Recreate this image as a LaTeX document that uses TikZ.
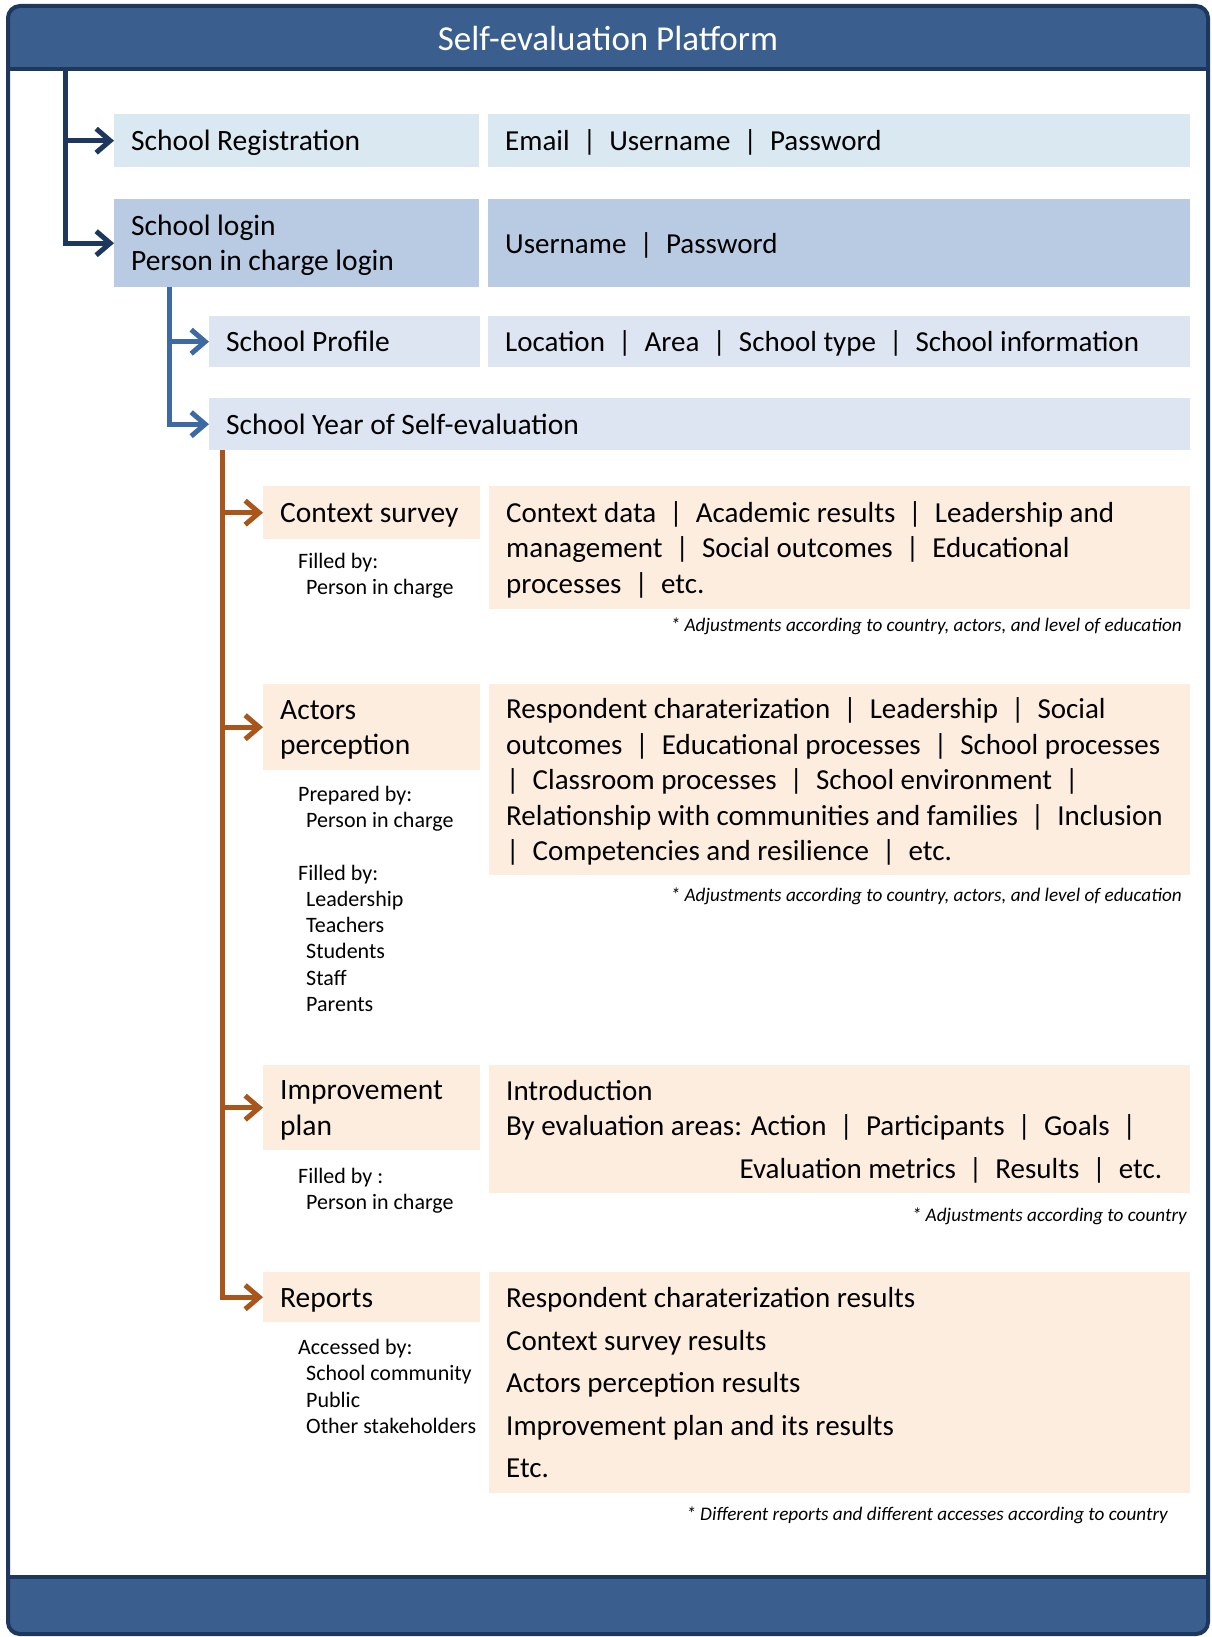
\documentclass[tikz,border=0pt]{standalone}
\usepackage{fontspec}
\setmainfont{Carlito}
\usetikzlibrary{arrows.meta}

\definecolor{framenavy}{HTML}{1E375C}
\definecolor{headblue}{HTML}{3A5F8F}
\definecolor{stepblue}{HTML}{3E6AA3}
\definecolor{stepbrown}{HTML}{A8561C}
\definecolor{regfill}{HTML}{DAE9F1}
\definecolor{loginfill}{HTML}{B8CBE3}
\definecolor{profilefill}{HTML}{DCE5F1}
\definecolor{surveyfill}{HTML}{FDEDDE}

\newcommand{\sepbar}{~~|~~}

\begin{document}
\begin{tikzpicture}[x=1pt, y=-1pt,
        every node/.style={inner sep=0pt},
        panel/.style={anchor=north west, inner xsep=17pt, inner ysep=0pt, align=flush left,
            font=\fontsize{29.5}{35.5}\selectfont,
            execute at begin node=\rule{0pt}{28pt}, execute at end node=\rule[-8pt]{0pt}{8pt}},
        datapanel/.style={panel, font=\fontsize{29}{35.5}\selectfont},
        subtext/.style={anchor=north west, align=flush left, font=\fontsize{22}{26.3}\selectfont},
        remark/.style={anchor=east, font=\fontsize{19.2}{23}\selectfont\itshape},
        navyarrow/.style={draw=framenavy, line width=5pt, -{Straight Barb[length=14pt,width=24pt]}},
        bluearrow/.style={draw=stepblue, line width=5pt, -{Straight Barb[length=14pt,width=24pt]}},
        brownarrow/.style={draw=stepbrown, line width=5pt, -{Straight Barb[length=14pt,width=24pt]}}]
    \useasboundingbox (0,0) rectangle (1211,1637);
    \fill[white] (0,0) rectangle (1211,1637);
    \fill[headblue, rounded corners=12pt] (8,6) rectangle (1208,1634);
    \fill[white] (8,69) rectangle (1208,1577);
    \draw[framenavy, line width=4pt] (8,69) -- (1208,69);
    \draw[framenavy, line width=4pt] (8,1577) -- (1208,1577);
    \draw[framenavy, line width=4pt, rounded corners=12pt] (8,6) rectangle (1208,1634);
    \node[font=\fontsize{35}{42}\selectfont, text=white] (title) at (608,38) {Self-evaluation Platform};

    \node[panel, fill=regfill, text width=331pt, minimum height=53pt] (reg) at (114,114) {School Registration};
    \node[datapanel, fill=regfill, text width=668pt, minimum height=53pt] (regdata) at (488,114)
        {Email\sepbar Username\sepbar Password};
    \node[panel, fill=loginfill, text width=331pt, minimum height=88pt] (login) at (114,199)
        {School login\\Person in charge login};
    \node[datapanel, fill=loginfill, text width=668pt, minimum height=88pt] (logindata) at (488,199)
        {Username\sepbar Password};
    \node[panel, fill=profilefill, text width=237pt, minimum height=51pt] (profile) at (209,316) {School Profile};
    \node[datapanel, fill=profilefill, text width=668pt, minimum height=51pt] (profiledata) at (488,316)
        {Location\sepbar Area\sepbar School type\sepbar School information};
    \node[panel, fill=profilefill, text width=947pt, minimum height=52pt] (year) at (209,398)
        {School Year of Self-evaluation};

    \node[panel, fill=surveyfill, text width=183pt, minimum height=53pt] (survey) at (263,486) {Context survey};
    \node[datapanel, fill=surveyfill, text width=667pt, minimum height=123pt] (surveydata) at (489,486)
        {Context data\sepbar Academic results\sepbar Leadership and\\
        management\sepbar Social outcomes\sepbar Educational\\
        processes\sepbar etc.};
    \node[subtext] (surveysub) at (298,553) {Filled by:\\\hspace*{8pt}Person in charge};
    \node[remark] (surveynote) at (1182,626) {* Adjustments according to country, actors, and level of education};

    \node[panel, fill=surveyfill, text width=183pt, minimum height=86pt] (actors) at (263,684) {Actors\\perception};
    \node[datapanel, fill=surveyfill, text width=667pt, minimum height=191pt] (actorsdata) at (489,684)
        {Respondent charaterization\sepbar Leadership\sepbar Social\\
        outcomes\sepbar Educational processes\sepbar School processes\\
        |~~Classroom processes\sepbar School environment~~|\\
        Relationship with communities and families\sepbar Inclusion\\
        |~~Competencies and resilience\sepbar etc.};
    \node[subtext] (actorssub) at (298,786)
        {Prepared by:\\\hspace*{8pt}Person in charge\\[26pt]
        Filled by:\\\hspace*{8pt}Leadership\\\hspace*{8pt}Teachers\\\hspace*{8pt}Students\\
        \hspace*{8pt}Staff\\\hspace*{8pt}Parents};
    \node[remark] (actorsnote) at (1182,896) {* Adjustments according to country, actors, and level of education};

    \node[panel, fill=surveyfill, text width=183pt, minimum height=85pt] (plan) at (263,1065) {Improvement\\plan};
    \node[datapanel, fill=surveyfill, text width=667pt, minimum height=128pt] (plandata) at (489,1065)
        {Introduction\\
        By evaluation areas: Action\sepbar Participants\sepbar Goals~~|\\[7pt]
        \makebox[\hsize][r]{Evaluation metrics\sepbar Results\sepbar etc.\hspace*{11pt}}};
    \node[subtext] (plansub) at (298,1168) {Filled by :\\\hspace*{8pt}Person in charge};
    \node[remark] (plannote) at (1187,1216) {* Adjustments according to country};

    \node[panel, fill=surveyfill, text width=183pt, minimum height=50pt] (reports) at (263,1272) {Reports};
    \node[datapanel, fill=surveyfill, text width=667pt, minimum height=221pt,
        font=\fontsize{29}{42.5}\selectfont] (reportsdata) at (489,1272)
        {Respondent charaterization results\\
        Context survey results\\
        Actors perception results\\
        Improvement plan and its results\\
        Etc.};
    \node[subtext] (reportssub) at (298,1339)
        {Accessed by:\\\hspace*{8pt}School community\\\hspace*{8pt}Public\\\hspace*{8pt}Other stakeholders};
    \node[remark] (reportsnote) at (1168,1515) {* Different reports and different accesses according to country};

    \coordinate (navytop) at (65,69);
    \draw[navyarrow] (navytop) |- (login.west);
    \draw[navyarrow] (navytop |- reg.west) -- (reg.west);
    \coordinate (bluetop) at (169,287);
    \draw[bluearrow] (bluetop) |- (year.west);
    \draw[bluearrow] (bluetop |- profile.west) -- (profile.west);
    \coordinate (browntop) at (222,450);
    \draw[brownarrow] (browntop) |- (reports.west);
    \foreach \step in {survey, actors, plan}
        \draw[brownarrow] (browntop |- \step.west) -- (\step.west);
\end{tikzpicture}
\end{document}
